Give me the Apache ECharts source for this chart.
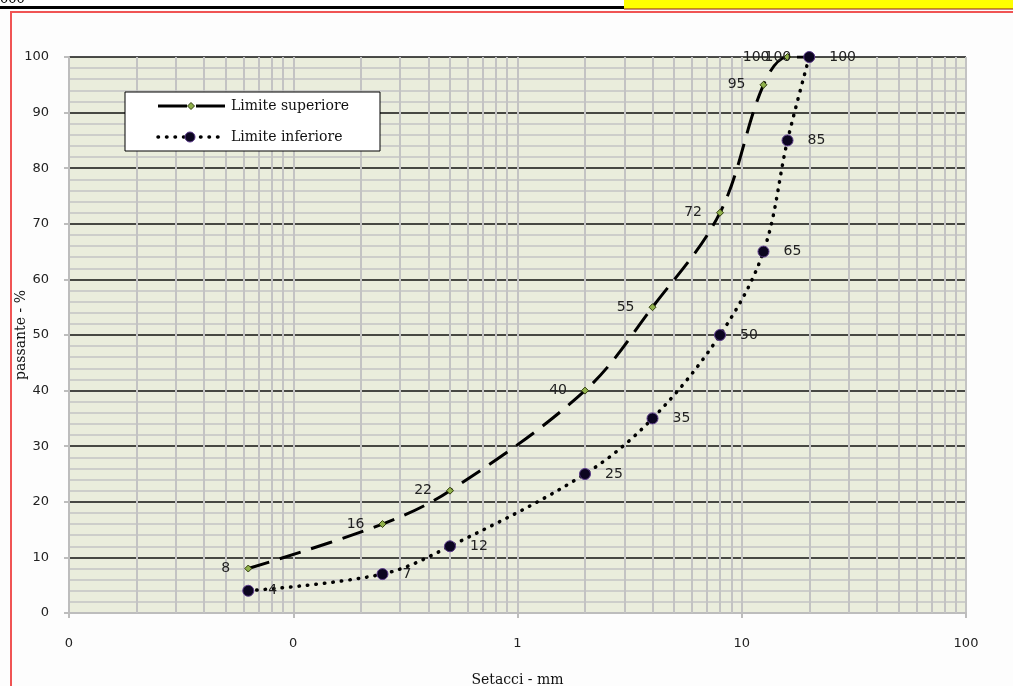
<!DOCTYPE html>
<html>
<head>
<meta charset="utf-8">
<title>Fuso granulometrico</title>
<script src="https://cdn.jsdelivr.net/npm/echarts@6/dist/echarts.min.js"></script>
<style>
  html, body { margin: 0; padding: 0; background: #fdfdfd; }
  #chart { width: 1013px; height: 686px; }
</style>
</head>
<body>
<div id="chart"></div>
<script>
// Sieve openings (mm) and passing percentages for the two grading limits
const sieves = [0.063, 0.25, 0.5, 2, 4, 8, 12.5, 16, 20];
const upperLimit = [8, 16, 22, 40, 55, 72, 95, 100, 100];
const lowerLimit = [4, 7, 12, 25, 35, 50, 65, 85, 100];
const xTickLabels = ['0', '0', '1', '10', '100'];
const seriesNames = ['Limite superiore', 'Limite inferiore'];

// Intermediate log gridlines (2..9 within each decade)
const minorX = [];
for (let d = 0.01; d < 100; d *= 10) {
  for (let k = 2; k <= 9; k++) minorX.push(+(k * d).toPrecision(3));
}

const numFont = 'DejaVu Sans';
const textFont = 'DejaVu Serif';

const upperStyle = {
  line: { color: '#000', width: 3, type: [22, 11] },
  item: { color: '#8fb04a', borderColor: '#344010', borderWidth: 1 }
};
const lowerStyle = {
  line: { color: '#000', width: 3.5, type: [0.5, 8], cap: 'round' },
  item: { color: '#0b0520', borderColor: '#5a3a8a', borderWidth: 1 }
};

// Boxed legend: line sample with marker, then the series name
function legendGraphics(x, y) {
  const row1 = y + 14, row2 = y + 45;
  return [
    { type: 'rect', shape: { x: x, y: y, width: 255, height: 59 },
      style: { fill: '#fff', stroke: '#000', lineWidth: 1 }, z: 20 },
    { type: 'line', shape: { x1: x + 33, y1: row1, x2: x + 62, y2: row1 },
      style: { stroke: '#000', lineWidth: 3 }, z: 21 },
    { type: 'line', shape: { x1: x + 71, y1: row1, x2: x + 100, y2: row1 },
      style: { stroke: '#000', lineWidth: 3 }, z: 21 },
    { type: 'polygon', shape: { points: [[x + 66, row1 - 3.5], [x + 69.5, row1], [x + 66, row1 + 3.5], [x + 62.5, row1]] },
      style: { fill: upperStyle.item.color, stroke: upperStyle.item.borderColor, lineWidth: 1 }, z: 22 },
    { type: 'text', x: x + 106, y: row1, style: { text: seriesNames[0], font: '14px ' + textFont, fill: '#111', verticalAlign: 'middle' }, z: 22 },
    { type: 'line', shape: { x1: x + 33, y1: row2, x2: x + 93, y2: row2 },
      style: { stroke: '#000', lineWidth: 3.5, lineDash: [0.5, 8], lineCap: 'round' }, z: 21 },
    { type: 'circle', shape: { cx: x + 65, cy: row2, r: 5 },
      style: { fill: lowerStyle.item.color, stroke: lowerStyle.item.borderColor, lineWidth: 1 }, z: 22 },
    { type: 'text', x: x + 106, y: row2, style: { text: seriesNames[1], font: '14px ' + textFont, fill: '#111', verticalAlign: 'middle' }, z: 22 }
  ];
}

const chart = echarts.init(document.getElementById('chart'));
chart.setOption({
  backgroundColor: '#fdfdfd',
  animation: false,
  graphic: [
    { type: 'rect', shape: { x: 624, y: 0, width: 400, height: 9 }, style: { fill: '#ffff00' }, z: 10 },
    { type: 'line', shape: { x1: 624, y1: 9, x2: 1013, y2: 9 }, style: { stroke: '#8a1a1a', lineWidth: 1 }, z: 10 },
    { type: 'line', shape: { x1: 0, y1: 7.5, x2: 624, y2: 7.5 }, style: { stroke: '#000', lineWidth: 3 }, z: 10 },
    { type: 'text', x: 0, y: -7, style: { text: '000', font: '13px ' + numFont, fill: '#000' }, z: 9 },
    { type: 'rect', shape: { x: 11, y: 12, width: 1040, height: 700 }, style: { fill: 'none', stroke: '#f05454', lineWidth: 2 }, z: 10 }
  ].concat(legendGraphics(125, 92)),
  grid: {
    left: 69, right: 47, top: 57, bottom: 73,
    outerBoundsMode: 'none',
    containLabel: false,
    show: true, backgroundColor: '#eaeddc', borderWidth: 0
  },
  xAxis: {
    type: 'log',
    logBase: 10,
    min: 0.01,
    max: 100,
    name: 'Setacci - mm',
    nameLocation: 'middle',
    nameGap: 60,
    nameMoveOverlap: false,
    nameTextStyle: { fontFamily: textFont, fontSize: 14, color: '#111' },
    axisLine: { show: true, lineStyle: { color: '#bdbdbd', width: 2 } },
    axisTick: { show: true, length: 5, lineStyle: { color: '#bdbdbd', width: 2 } },
    axisLabel: {
      margin: 24,
      fontFamily: numFont,
      fontSize: 13,
      color: '#222',
      formatter: (v, i) => xTickLabels[i]
    },
    splitLine: { show: true, lineStyle: { color: '#c3c3c3', width: 2 } }
  },
  yAxis: {
    type: 'value',
    min: 0,
    max: 100,
    interval: 10,
    name: 'passante - %',
    nameLocation: 'middle',
    nameGap: 41,
    nameMoveOverlap: false,
    nameTextStyle: { fontFamily: textFont, fontSize: 14, color: '#111' },
    axisLine: { show: true, lineStyle: { color: '#bdbdbd', width: 2 } },
    axisTick: { show: true, length: 5, lineStyle: { color: '#bdbdbd', width: 2 } },
    axisLabel: { margin: 20, fontFamily: numFont, fontSize: 13, color: '#222' },
    splitLine: { show: true, lineStyle: { color: '#111', width: 1.5 } },
    minorTick: { show: false, splitNumber: 5 },
    minorSplitLine: { show: true, lineStyle: { color: '#c3c3c3', width: 1.5 } }
  },
  series: [
    {
      name: 'grid',
      type: 'line',
      data: [],
      silent: true,
      z: 1,
      markLine: {
        silent: true,
        symbol: 'none',
        animation: false,
        label: { show: false },
        lineStyle: { color: '#c3c3c3', width: 2, type: 'solid' },
        data: minorX.map(v => ({ xAxis: v }))
      }
    },
    {
      name: seriesNames[0],
      type: 'line',
      data: sieves.map((s, i) => [s, upperLimit[i]]),
      smooth: 0.35,
      z: 5,
      symbol: 'diamond',
      symbolSize: 7,
      itemStyle: upperStyle.item,
      lineStyle: upperStyle.line,
      label: {
        show: true,
        position: 'left',
        distance: 14,
        fontFamily: numFont,
        fontSize: 14,
        color: '#222'
      }
    },
    {
      name: seriesNames[1],
      type: 'line',
      data: sieves.map((s, i) => [s, lowerLimit[i]]),
      smooth: 0.35,
      z: 5,
      symbol: 'circle',
      symbolSize: 11,
      itemStyle: lowerStyle.item,
      lineStyle: lowerStyle.line,
      label: {
        show: true,
        position: 'right',
        distance: 14,
        fontFamily: numFont,
        fontSize: 14,
        color: '#222'
      }
    }
  ]
});
</script>
</body>
</html>
